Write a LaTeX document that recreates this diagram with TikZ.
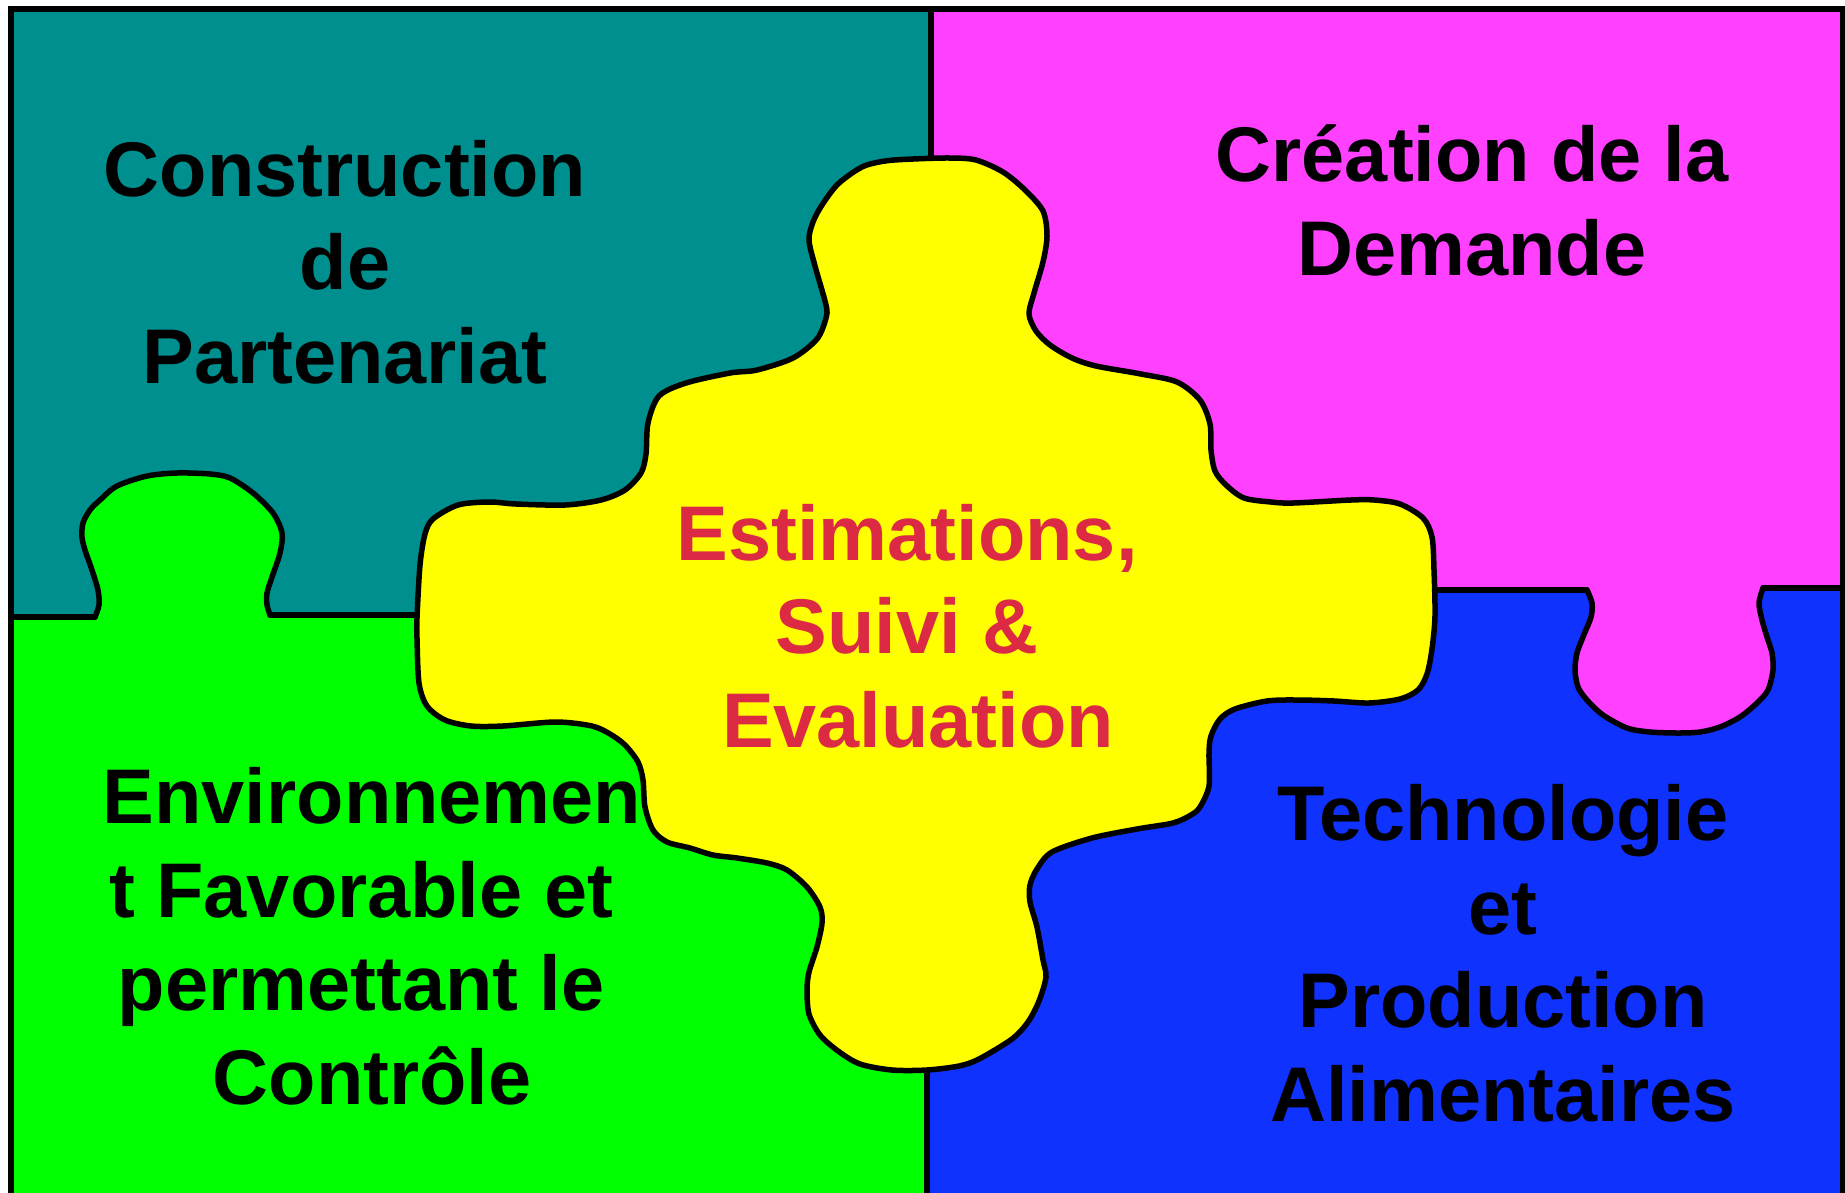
\documentclass[tikz,border=0pt]{standalone}
\usepackage{fontspec}
\setmainfont{Liberation Sans}
\definecolor{tealc}{RGB}{0,143,143}
\definecolor{magc}{RGB}{255,64,255}
\definecolor{greenc}{RGB}{0,255,0}
\definecolor{bluec}{RGB}{16,50,255}
\definecolor{yelc}{RGB}{255,255,0}
\definecolor{redtxt}{RGB}{220,42,68}
\tikzset{
  edge/.style={line width=5.5pt, line join=round, line cap=round},
  label/.style={font=\fontsize{77.5}{93.5}\selectfont\bfseries, align=center, inner sep=0pt, anchor=base},
}
\begin{document}
\begin{tikzpicture}[x=1pt,y=-1pt]
\useasboundingbox (0,0) rectangle (1845,1192);
\clip (0,0) rectangle (1845,1192);
\fill[white] (0,0) rectangle (1845,1192);
% quadrants
\fill[tealc] (11,9) rectangle (931,616);
\fill[magc] (931,9) rectangle (1843,589);
\fill[greenc] (11,616) rectangle (927,1210);
\fill[bluec] (927,589) rectangle (1843,1210);
% green knob
\fill[greenc] plot[smooth] coordinates {(95,617) (99,605) (98,590) (92,570) (85,550) (82,537) (83,523) (90,510) (100,500) (117,486) (147,476) (177,473) (210,474) (230,478) (253,493) (273,513) (282,533) (280,553) (272,577) (267,593) (267,605) (270,615)} -- (270,630) -- (95,630) -- cycle;
\draw[edge] plot[smooth] coordinates {(95,617) (99,605) (98,590) (92,570) (85,550) (82,537) (83,523) (90,510) (100,500) (117,486) (147,476) (177,473) (210,474) (230,478) (253,493) (273,513) (282,533) (280,553) (272,577) (267,593) (267,605) (270,615)};
% magenta knob
\fill[magc] plot[smooth] coordinates {(1587,590) (1592,603) (1591,617) (1583,637) (1577,653) (1575,670) (1578,687) (1587,700) (1603,715) (1627,728) (1650,732) (1678,733) (1700,732) (1720,727) (1740,717) (1757,703) (1768,690) (1773,670) (1772,653) (1767,637) (1762,620) (1759,603) (1763,588)} -- (1763,575) -- (1587,575) -- cycle;
\draw[edge] plot[smooth] coordinates {(1587,590) (1592,603) (1591,617) (1583,637) (1577,653) (1575,670) (1578,687) (1587,700) (1603,715) (1627,728) (1650,732) (1678,733) (1700,732) (1720,727) (1740,717) (1757,703) (1768,690) (1773,670) (1772,653) (1767,637) (1762,620) (1759,603) (1763,588)};
% straight borders
\draw[edge] (11,617) -- (95,617);
\draw[edge] (270,615) -- (430,615);
\draw[edge] (1420,590) -- (1587,590);
\draw[edge] (1763,588) -- (1843,588);
\draw[edge] (931,9) -- (931,170);
\draw[edge] (927,1060) -- (927,1200);
% outer frame
\draw[line width=5.5pt] (11,1200) -- (11,9) -- (1843,9) -- (1843,1200);
% yellow central piece
\filldraw[fill=yelc, edge] plot[smooth cycle] coordinates {
(862,167) (885,161) (913,159) (950,158) (976,160) (1003,172) (1025,190) (1043,211) (1047,236) (1043,262) (1034,293) (1029,314)
(1036,331) (1050,345) (1072,358) (1096,366) (1141,374) (1177,382) (1200,400) (1210,424) (1211,450) (1215,471) (1226,485) (1244,498) (1271,502) (1293,503) (1351,500) (1374,500) (1400,504) (1423,518) (1432,537) (1434,570) (1435,616) (1432,649) (1427,674) (1418,690) (1400,699) (1369,703) (1334,701) (1298,700) (1267,701) (1235,709) (1220,719) (1211,736) (1209,753) (1209,786) (1200,807) (1191,815) (1173,823) (1137,829) (1092,838) (1052,852) (1037,869) (1030,885) (1030,902) (1037,927) (1043,960) (1046,977) (1039,1001) (1028,1022) (1012,1039) (979,1059) (959,1066) (927,1070) (892,1070) (860,1064) (838,1051) (820,1035) (809,1014) (807,990) (809,972) (817,947) (822,923) (820,907) (807,887) (787,870) (767,863) (737,858) (713,855) (690,848) (667,842) (653,830) (645,807) (643,780) (638,762) (625,745) (610,734) (592,726) (556,722) (503,726) (471,726) (445,720) (427,706) (419,683) (417,638) (417,618) (420,565) (425,534) (433,519) (458,505) (489,502) (516,504) (565,505) (601,500) (625,490) (641,473) (646,454) (648,423) (659,396) (686,383) (730,373) (757,370) (793,358) (817,339) (826,318) (826,305) (815,266) (809,240) (813,222) (822,205) (838,184)};
% texts (anchor = baseline of the last line)
\node[label] (partenariat) at (345,383) {Construction\\de\\Partenariat};
\node[label] (demande) at (1472,275) {Création de la\\Demande};
\node[label, text=redtxt] (estimations) at (918,747) {Estimations,\kern0.28em\\Suivi \&\kern0.28em\\Evaluation};
\node[label] (environnement) at (372,1104) {Environnemen\\t Favorable et\kern0.28em\\permettant le\kern0.28em\\Contrôle};
\node[label] (technologie) at (1503,1121) {Technologie\\et\\Production\\Alimentaires};
\end{tikzpicture}
\end{document}
